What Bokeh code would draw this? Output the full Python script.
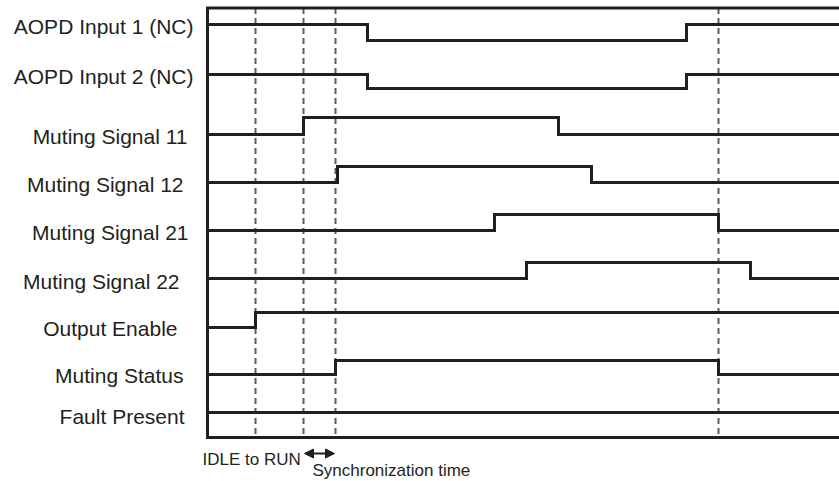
from bokeh.plotting import figure
from bokeh.models import Range1d, Arrow, NormalHead
from bokeh.core.properties import value
from bokeh.embed import file_html
from bokeh.resources import INLINE

# ---- data (time units, 0 = start of diagram) ----
signal_names = ["AOPD Input 1 (NC)", "AOPD Input 2 (NC)", "Muting Signal 11", "Muting Signal 12",
                "Muting Signal 21", "Muting Signal 22", "Output Enable", "Muting Status", "Fault Present"]
initial_levels = [1, 1, 0, 0, 0, 0, 0, 0, 0]
aopd1_edges = [160, 479]
aopd2_edges = [160, 479]
ms11_edges = [96, 351]
ms12_edges = [130, 384]
ms21_edges = [287, 511]
ms22_edges = [319, 543]
output_enable_edges = [48]
muting_status_edges = [128, 511]
fault_present_edges = []
marker_times = [48, 96, 128, 511]
t_end = 640
bottom_labels = ["IDLE to RUN", "Synchronization time"]

all_edges = [aopd1_edges, aopd2_edges, ms11_edges, ms12_edges, ms21_edges, ms22_edges,
             output_enable_edges, muting_status_edges, fault_present_edges]

# ---- layout (vertical lane positions, top = small) ----
lane_low = [40, 88, 134, 182, 230, 278, 327, 374, 412]
lane_high = [24, 74, 117, 166, 214, 262, 312, 360, 397]
label_center = [26, 75.5, 135.5, 183.5, 231.5, 280.5, 327.5, 374.5, 415.5]
label_right = [-14, -14, -20, -24, -19, -28, -30, -24, -23]
frame_top, frame_bottom = 7.5, 437

INK = "#231f20"
DASH = "#5c5c5c"

p = figure(width=839, height=481, x_range=Range1d(-207, 632), y_range=Range1d(481, 0),
           output_backend="svg", toolbar_location=None,
           min_border=0, min_border_left=0, min_border_right=0, min_border_top=0, min_border_bottom=0)
p.axis.visible = False
p.grid.visible = False
p.outline_line_color = None
p.background_fill_color = "white"
p.border_fill_color = "white"

# dashed markers
for t in marker_times:
    p.line([t, t], [frame_top, frame_bottom], line_color=DASH, line_width=2, line_dash="6 4")

# frame
p.line([t_end, 0, 0, t_end], [frame_top, frame_top, frame_bottom, frame_bottom],
       line_color=INK, line_width=3, line_join="miter")

# signals
for i, edges in enumerate(all_edges):
    lvl = initial_levels[i]
    ypos = lambda l: lane_high[i] if l else lane_low[i]
    xs, ys = [0], [ypos(lvl)]
    for e in edges:
        xs.append(e); ys.append(ypos(lvl))
        lvl = 1 - lvl
        xs.append(e); ys.append(ypos(lvl))
    xs.append(t_end); ys.append(ypos(lvl))
    p.line(xs, ys, line_color=INK, line_width=3, line_join="miter")

# signal labels
p.text(x=label_right, y=label_center, text=signal_names, text_align="right",
       text_baseline="middle", text_font=value("Liberation Sans"),
       text_font_size="21px", text_color=INK)

# bottom annotations
p.text(x=[-5, 105], y=[459, 470], text=bottom_labels, text_align="left",
       text_baseline="middle", text_font=value("Liberation Sans"),
       text_font_size="17px", text_color=INK)
p.add_layout(Arrow(x_start=marker_times[1] + 1, x_end=marker_times[2] - 1, y_start=453, y_end=453,
                   line_color=INK, line_width=2,
                   start=NormalHead(size=9, fill_color=INK, line_color=INK),
                   end=NormalHead(size=9, fill_color=INK, line_color=INK)))

open("out.html", "w").write(file_html(p, INLINE))
